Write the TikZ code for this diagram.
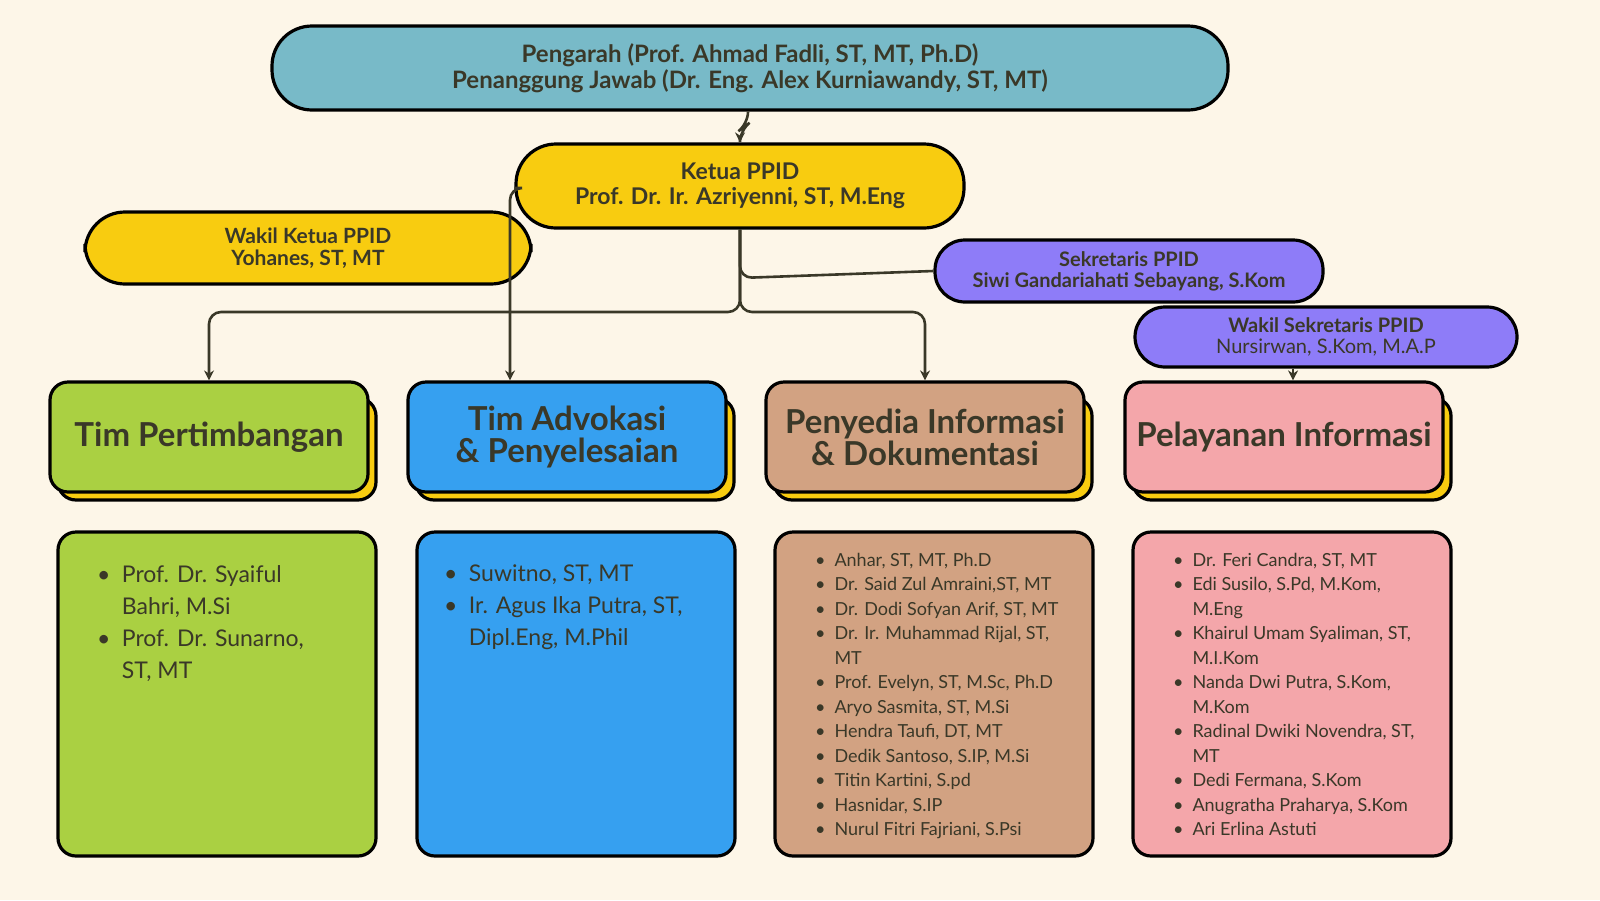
\documentclass[tikz,border=0pt]{standalone}
\usepackage{fontspec}
\setmainfont{Lato}
\usetikzlibrary{positioning,arrows.meta}
\definecolor{paper}{RGB}{253,246,232}
\definecolor{ink}{RGB}{58,56,40}
\definecolor{steel}{RGB}{120,186,200}
\definecolor{sun}{RGB}{248,204,16}
\definecolor{lilac}{RGB}{142,124,248}
\definecolor{leaf}{RGB}{170,208,66}
\definecolor{sky}{RGB}{54,160,240}
\definecolor{clay}{RGB}{210,162,130}
\definecolor{rose}{RGB}{244,166,170}
\tikzset{
  pill/.style={draw=black, line width=1.6pt, rounded corners=20pt, text=ink, align=center, font=\bfseries},
  card/.style={draw=black, line width=1.6pt, rounded corners=9pt, text=ink, align=center,
    minimum width=159pt, minimum height=55pt, inner sep=0pt},
  list/.style={draw=black, line width=1.6pt, rounded corners=9pt, minimum width=159pt, minimum height=162pt},
  link/.style={ink, line width=1.3pt, rounded corners=6pt},
  tip/.style={-{Stealth[length=5pt,width=5pt]}}
}
\newcommand{\itm}{\textbullet\hspace{0.5em}}
\begin{document}
\begin{tikzpicture}[x=0.5pt,y=-0.5pt]

% Background
\fill[paper] (0,0) rectangle (1600,900);
\useasboundingbox (0,0) rectangle (1600,900);

% Top level
\node[pill, fill=steel, minimum width=478pt, minimum height=42pt, font=\bfseries\fontsize{12}{13}\selectfont]
  (lead) at (750,68) {Pengarah (Prof. Ahmad Fadli, ST, MT, Ph.D)\\Penanggung Jawab (Dr. Eng. Alex Kurniawandy, ST, MT)};
\node[pill, fill=sun, minimum width=224pt, minimum height=42pt, font=\bfseries\fontsize{11.5}{12.5}\selectfont]
  (chair) at (740,186) {Ketua PPID\\Prof. Dr. Ir. Azriyenni, ST, M.Eng};
\node[pill, fill=sun, minimum width=223pt, minimum height=36pt, font=\bfseries\fontsize{10.5}{11}\selectfont]
  (vchair) at (308,248) {Wakil Ketua PPID\\Yohanes, ST, MT};
\node[pill, fill=lilac, minimum width=194pt, minimum height=31pt, rounded corners=15pt, font=\bfseries\fontsize{10}{10.5}\selectfont]
  (sec) at (1129,271) {Sekretaris PPID\\Siwi Gandariahati Sebayang, S.Kom};
\node[pill, fill=lilac, minimum width=191pt, minimum height=30pt, rounded corners=15pt, font=\fontsize{10}{10.5}\selectfont]
  (vsec) at (1326,337) {\textbf{Wakil Sekretaris PPID}\\Nursirwan, S.Kom, M.A.P};

% Team cards with yellow shadow
\foreach \nm/\cx/\col/\txt in {pert/209/leaf/{Tim Pertimbangan}, advo/567/sky/{Tim Advokasi\\\& Penyelesaian},
    info/925/clay/{Penyedia Informasi\\\& Dokumentasi}, layan/1284/rose/{Pelayanan Informasi}} {
  \fill[sun, draw=black, line width=1.6pt, rounded corners=9pt] (\cx-151,398) rectangle (\cx+167,500);
  \node[card, fill=\col, font=\bfseries\fontsize{16.5}{16}\selectfont] (\nm) at (\cx,437) {\txt};
}

% Member boxes
\node[list, fill=leaf] (pertL) at (217,694) {};
\node[list, fill=sky] (advoL) at (576,694) {};
\node[list, fill=clay] (infoL) at (934,694) {};
\node[list, fill=rose] (layanL) at (1292,694) {};

\node[anchor=north west, text=ink, font=\fontsize{11.5}{16}\selectfont, align=left] at (90,558)
  {\itm Prof. Dr. Syaiful\\\phantom{\itm}Bahri, M.Si\\\itm Prof. Dr. Sunarno,\\\phantom{\itm}ST, MT};
\node[anchor=north west, text=ink, font=\fontsize{11.5}{16}\selectfont, align=left] at (437,558)
  {\itm Suwitno, ST, MT\\\itm Ir. Agus Ika Putra, ST,\\\phantom{\itm}Dipl.Eng, M.Phil};
\node[anchor=north west, text=ink, font=\fontsize{9}{12.25}\selectfont, align=left] at (808,546)
  {\itm Anhar, ST, MT, Ph.D\\\itm Dr. Said Zul Amraini,ST, MT\\\itm Dr. Dodi Sofyan Arif, ST, MT\\
   \itm Dr. Ir. Muhammad Rijal, ST,\\\phantom{\itm}MT\\\itm Prof. Evelyn, ST, M.Sc, Ph.D\\
   \itm Aryo Sasmita, ST, M.Si\\\itm Hendra Taufi, DT, MT\\\itm Dedik Santoso, S.IP, M.Si\\
   \itm Titin Kartini, S.pd\\\itm Hasnidar, S.IP\\\itm Nurul Fitri Fajriani, S.Psi};
\node[anchor=north west, text=ink, font=\fontsize{9}{12.25}\selectfont, align=left] at (1166,546)
  {\itm Dr. Feri Candra, ST, MT\\\itm Edi Susilo, S.Pd, M.Kom,\\\phantom{\itm}M.Eng\\
   \itm Khairul Umam Syaliman, ST,\\\phantom{\itm}M.I.Kom\\\itm Nanda Dwi Putra, S.Kom,\\\phantom{\itm}M.Kom\\
   \itm Radinal Dwiki Novendra, ST,\\\phantom{\itm}MT\\\itm Dedi Fermana, S.Kom\\
   \itm Anugratha Praharya, S.Kom\\\itm Ari Erlina Astuti};

% Connectors
\draw[link, tip] (lead.south -| 748,0) -- (748,124) -- (740,130) -- (chair.north);
\draw[link, tip] (chair.south) -- (740,312) -| (pert.north);
\draw[link, tip] (chair.south) -- (740,312) -| (info.north);
\draw[link] (chair.south) -- (740,278) -- (sec.west);
\draw[link, tip] (chair.west |- 0,188) -- (510,188) -- (advo.north -| 510,0);
\draw[link, tip] (vsec.south -| 1293,0) -- (layan.north -| 1293,0);

\end{tikzpicture}
\end{document}
